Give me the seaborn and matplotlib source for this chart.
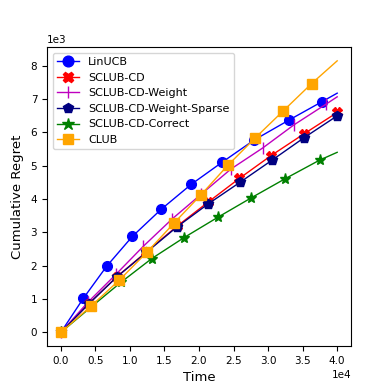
import matplotlib
matplotlib.use("Agg")
import matplotlib.pyplot as plt
import seaborn as sns
import pandas as pd

# ---- data (Time, Cumulative Regret) ----
linucb_t = [0, 3250, 6650, 10350, 14500, 18850, 23300, 27950, 33000, 37850, 40000]
linucb_r = [0, 1020, 1990, 2880, 3690, 4440, 5100, 5770, 6370, 6930, 7180]

sclub_cd_t = [0, 4010, 8060, 12400, 16770, 21350, 25830, 30420, 35240, 40000]
sclub_cd_r = [0, 850, 1660, 2420, 3180, 3915, 4620, 5305, 5965, 6600]

weight_t = [0, 3940, 7990, 11940, 16140, 20360, 24630, 29220, 33750, 38380, 40000]
weight_r = [0, 910, 1745, 2585, 3410, 4155, 4905, 5535, 6230, 6850, 7070]

sparse_t = [0, 4010, 8090, 12400, 16770, 21350, 25930, 30610, 35220, 40000]
sparse_r = [0, 850, 1665, 2405, 3160, 3860, 4505, 5175, 5845, 6500]

correct_t = [0, 4370, 8710, 13150, 17830, 22680, 27570, 32490, 37450, 40000]
correct_r = [0, 760, 1505, 2215, 2845, 3450, 4040, 4615, 5170, 5405]

club_t = [0, 4370, 8470, 12480, 16380, 20290, 24150, 28100, 32200, 36310, 40000]
club_r = [0, 790, 1570, 2410, 3280, 4130, 5010, 5830, 6650, 7470, 8150]

series = [
    ("LinUCB", linucb_t, linucb_r, "blue", "o", False),
    ("SCLUB-CD", sclub_cd_t, sclub_cd_r, "red", "X", True),
    ("SCLUB-CD-Weight", weight_t, weight_r, "m", "|", False),
    ("SCLUB-CD-Weight-Sparse", sparse_t, sparse_r, "navy", "p", True),
    ("SCLUB-CD-Correct", correct_t, correct_r, "green", "*", False),
    ("CLUB", club_t, club_r, "orange", "s", False),
]

fig = plt.figure(figsize=(3.9, 3.9), dpi=100)
ax = fig.add_axes([0.1205, 0.1128, 0.7795, 0.766])

for name, t, r, col, mk, last_marker in series:
    df = pd.DataFrame({"Time": t, "Regret": r})
    n = len(t)
    me = list(range(n)) if last_marker else list(range(n - 1))
    ms = 8 if mk in ("*", "|") else 7
    sns.lineplot(data=df, x="Time", y="Regret", ax=ax, color=col, marker=mk,
                 markersize=ms, markevery=me, markeredgecolor=col,
                 markerfacecolor=col, markeredgewidth=1.0, linewidth=1.0,
                 estimator=None, sort=False, label=name, legend=False)

ax.ticklabel_format(axis="both", style="sci", scilimits=(0, 0))
ax.xaxis.get_offset_text().set_fontsize(7.5)
ax.yaxis.get_offset_text().set_fontsize(7.5)
ax.tick_params(labelsize=7.5, width=0.8, length=3.5)
ax.set_xlabel("Time", fontsize=9.5)
ax.set_ylabel("Cumulative Regret", fontsize=9.5, labelpad=5)
for s in ax.spines.values():
    s.set_linewidth(0.8)

ax.legend(loc="upper left", fontsize=8, frameon=True, markerscale=1.1)

fig.savefig("out.png", dpi=100)
